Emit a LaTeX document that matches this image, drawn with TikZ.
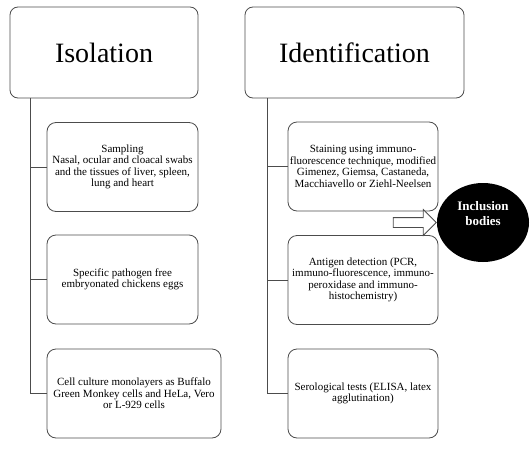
\documentclass[tikz,border=0pt]{standalone}
\usepackage{fontspec}
\setmainfont{LiberationSerif-Regular.ttf}[BoldFont=LiberationSerif-Bold.ttf]
\usetikzlibrary{shapes.geometric,shapes.arrows}

\begin{document}
\begin{tikzpicture}[x=1pt,y=-1pt,
    headbox/.style={draw=black!70,line width=0.8pt,rounded corners=8pt,
      minimum width=#1,minimum height=91pt,inner sep=0pt,
      font=\fontsize{28}{32}\selectfont},
    itembox/.style={draw=black!70,line width=0.8pt,rounded corners=9pt,
      minimum width=#1,minimum height=89pt,inner sep=0pt,align=center,
      font=\fontsize{11}{11.5}\selectfont},
    stem/.style={draw=black!70,line width=0.8pt}]
    \useasboundingbox (0,0) rectangle (530,450);
    \node[headbox=188pt] (iso) at (104,52.5) {Isolation};
    \node[headbox=219pt] (ident) at (354.5,52.5) {Identification};
    \node[itembox=151pt] (samp) at (122.5,167) {Sampling\\Nasal, ocular and cloacal swabs\\and the tissues of liver, spleen,\\lung and heart};
    \node[itembox=151pt] (spf) at (122.5,279.5) {Specific pathogen free\\embryonated chickens eggs};
    \node[itembox=174pt] (cell) at (134,393.5) {Cell culture monolayers as Buffalo\\Green Monkey cells and HeLa, Vero\\or L-929 cells};
    \node[itembox=150pt] (stain) at (363,166.5) {Staining using immuno-\\fluorescence technique, modified\\Gimenez, Giemsa, Castaneda,\\Macchiavello or Ziehl-Neelsen};
    \node[itembox=150pt] (antig) at (363,280) {Antigen detection (PCR,\\immuno-fluorescence, immuno-\\peroxidase and immuno-\\histochemistry)};
    \node[itembox=150pt] (sero) at (363,393.5) {Serological tests (ELISA, latex\\agglutination)};
    \node[ellipse,fill=black,minimum width=92pt,minimum height=79pt,inner sep=0pt,
      text=white,align=center,font=\fontsize{13}{15}\selectfont\bfseries] (incl) at (483,222.5) {Inclusion\\bodies\\[4pt]};
    \node[single arrow,draw=black!70,fill=white,line width=0.8pt,anchor=tip,
      minimum height=43pt,single arrow head extend=8pt,
      inner xsep=0pt,inner ysep=4.5pt] (toincl) at (incl.west) {};
    \coordinate (lstem) at (30,98);
    \coordinate (rstem) at (267,98);
    \draw[stem] (lstem) |- (cell.west);
    \draw[stem] (rstem) |- (sero.west);
    \foreach \b in {samp,spf}
      \draw[stem] (lstem |- \b.west) -- (\b.west);
    \foreach \b in {stain,antig}
      \draw[stem] (rstem |- \b.west) -- (\b.west);
\end{tikzpicture}
\end{document}
